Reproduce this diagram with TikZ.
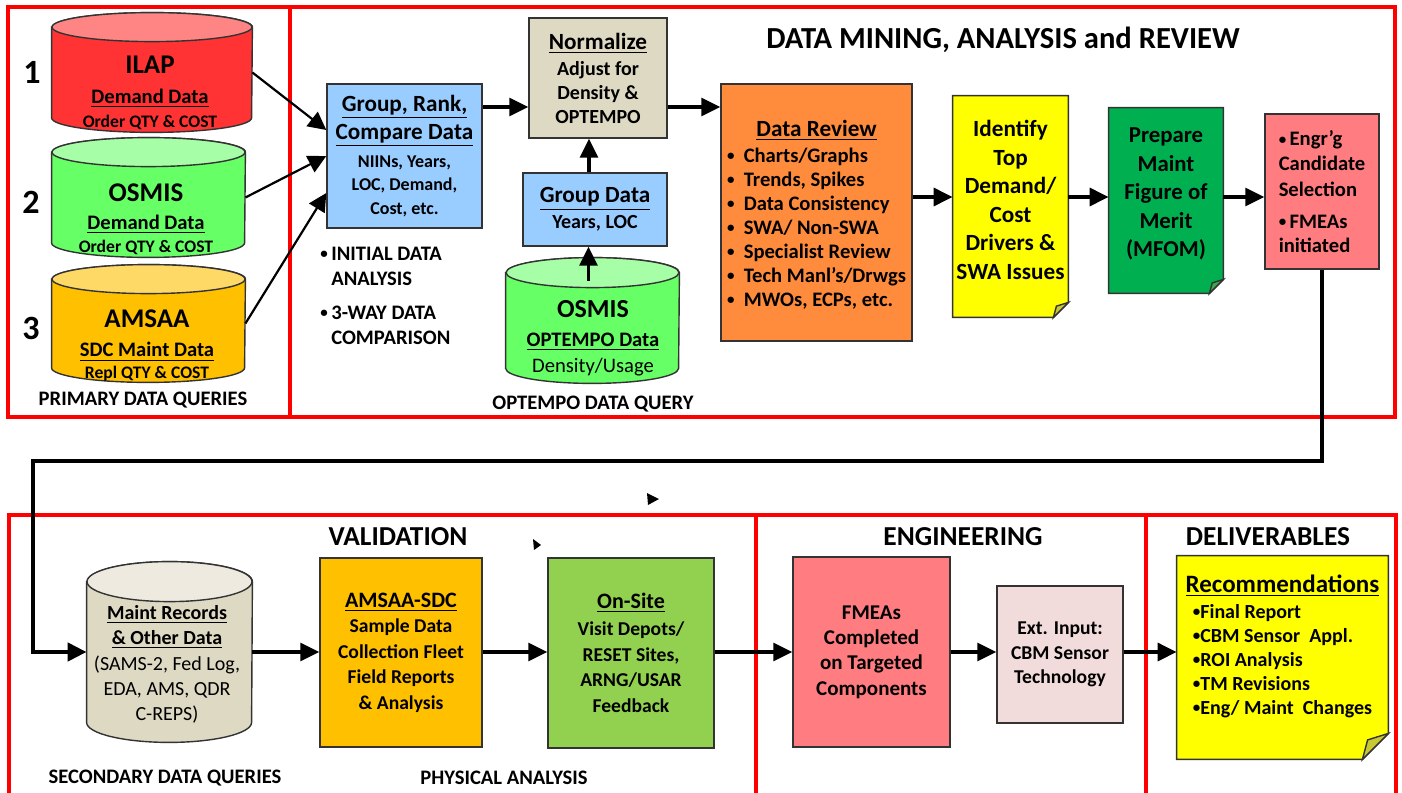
\documentclass[tikz,border=0pt]{standalone}
\usepackage{fontspec}
\setmainfont{Carlito}
\usetikzlibrary{shapes.geometric, arrows.meta, positioning, backgrounds}

\definecolor{ilapred}{HTML}{FF3333}
\definecolor{ilaptop}{HTML}{FF8585}
\definecolor{osmisgreen}{HTML}{66FF66}
\definecolor{osmistop}{HTML}{A6FFA6}
\definecolor{amsaagold}{HTML}{FFC000}
\definecolor{amsaatop}{HTML}{FFD966}
\definecolor{stepblue}{HTML}{99CCFF}
\definecolor{boxtan}{HTML}{DDD9C3}
\definecolor{tantop}{HTML}{EEEAE0}
\definecolor{revieworange}{HTML}{FF8C3C}
\definecolor{noteyellow}{HTML}{FFFF00}
\definecolor{foldyellow}{HTML}{C8C832}
\definecolor{mfomgreen}{HTML}{00B050}
\definecolor{foldgreen}{HTML}{3DA84A}
\definecolor{engrpink}{HTML}{FF7C80}
\definecolor{sitegreen}{HTML}{92D050}
\definecolor{extpink}{HTML}{F2DCDB}

\newcommand{\fsz}[2]{\fontsize{#1}{#2}\selectfont}
\newcommand{\bul}{\raisebox{0.9pt}{\fsz{7.5}{8}•}}
% note box with a folded corner, drawn behind its node
\newcommand{\dogear}[4]{%
  \begin{scope}[on background layer]
    \draw[edge, fill=#2] (#1.north west) -- (#1.north east) -- ([yshift=#4]#1.south east)
      -- ([xshift=-#4]#1.south east) -- (#1.south west) -- cycle;
    \draw[edge, fill=#3] ([yshift=#4]#1.south east) -- ([xshift=-#4]#1.south east)
      -- ([xshift=-0.8*#4, yshift=0.75*#4]#1.south east) -- cycle;
  \end{scope}}
% database drum behind its node: name, body, top, half width, top radius
\newcommand{\drum}[5]{%
  \begin{scope}[on background layer]
    \draw[edge, fill=#2] ([yshift=-#5]#1.north west) -- ([yshift=#5]#1.south west)
      arc[start angle=180, end angle=360, x radius=#4, y radius=#5]
      -- ([yshift=-#5]#1.north east)
      arc[start angle=0, end angle=180, x radius=#4, y radius=#5] -- cycle;
    \draw[edge, fill=#3] ([yshift=-#5]#1.north) ellipse[x radius=#4, y radius=#5];
  \end{scope}}

\tikzset{
  frame/.style={draw=red, line width=2pt},
  edge/.style={draw=black!80, line width=0.7pt},
  box/.style={edge, rectangle, align=center, inner sep=0pt, font=\bfseries\fsz{10}{12}},
  note/.style={rectangle, inner sep=0pt},
  db/.style={rectangle, inner sep=0pt},
  lbl/.style={align=center, inner sep=0pt, font=\bfseries\fsz{10.3}{12}},
  head/.style={font=\bfseries\fsz{13.7}{16}},
  num/.style={font=\bfseries\fsz{17}{20}},
  flow/.style={line width=1.6pt, -{Triangle[length=9.5pt,width=9pt]}},
  feed/.style={line width=1.1pt, -{Triangle[length=9pt,width=9pt]}},
  back/.style={line width=2.2pt, -{Triangle[length=9.5pt,width=9pt]}},
}

\begin{document}
\begin{tikzpicture}[x=0.5pt, y=-0.5pt]
\useasboundingbox (0,0) rectangle (1402,792);
\clip (0,0) rectangle (1402,792);

% frames
\draw[frame] (8,7) rectangle (290,417);
\draw[frame] (290,7) rectangle (1395,417);
\draw[frame] (9,515) rectangle (756,800);
\draw[frame] (756,515) rectangle (1146,800);
\draw[frame] (1146,515) rectangle (1396,800);

\coordinate (rowA) at (0,107);
\coordinate (rowB) at (0,197);
\coordinate (rowC) at (0,652);
\coordinate (turn) at (33,461);

% primary queries
\node[num] (one) at (32,72) {1};
\node[num] (two) at (31,202) {2};
\node[num] (three) at (31,328) {3};

\node[db, minimum width=100pt, minimum height=59.5pt] (ilap) at (152,72.5) {};
\drum{ilap}{ilapred}{ilaptop}{50pt}{7.25pt}
\node[lbl] (ilap-t) at (150,93) {{\fsz{13.5}{15}ILAP}\\[3pt]\underline{Demand Data}\\{\fsz{8.8}{10}Order QTY \& COST}};
\node[db, minimum width=96.5pt, minimum height=59.5pt] (osmis) at (148.5,197.5) {};
\drum{osmis}{osmisgreen}{osmistop}{48.25pt}{7.25pt}
\node[lbl] (osmis-t) at (146,219) {{\fsz{13.5}{15}OSMIS}\\[2pt]\underline{Demand Data}\\[-0.5pt]{\fsz{8.8}{10}Order QTY \& COST}};
\node[db, minimum width=96.5pt, minimum height=58.5pt] (amsaa) at (148.5,323.5) {};
\drum{amsaa}{amsaagold}{amsaatop}{48.25pt}{7.25pt}
\node[lbl] (amsaa-t) at (147,346) {{\fsz{13.5}{15}AMSAA}\\[2.5pt]\underline{SDC Maint Data}\\[-1pt]{\fsz{8.8}{10}Repl QTY \& COST}};
\node[lbl] (primary) at (143,400) {PRIMARY DATA QUERIES};

% data mining
\node[head, font=\bfseries\fsz{15.3}{18}] (mining) at (1003,40) {DATA MINING, ANALYSIS and REVIEW};

\node[box, fill=stepblue, minimum width=77.5pt, minimum height=72pt, font=\bfseries\fsz{9}{11.75}] (group) at (404.5,156)
  {{\fsz{11.6}{14}\underline{Group, Rank,}}\\[2.25pt]{\fsz{11.6}{14}\underline{Compare Data}}\\[2.25pt]NIINs, Years,\\ LOC, Demand,\\ Cost, etc.};
\node[lbl, align=left, anchor=west, font=\bfseries\fsz{10.3}{12.5}] (initial) at (320,296)
  {\bul\,INITIAL DATA\\ \hphantom{\bul\,}ANALYSIS\\[4.5pt] \bul\,3-WAY DATA\\ \hphantom{\bul\,}COMPARISON};

\node[box, fill=boxtan, minimum width=69pt, minimum height=60pt] (norm) at (598,78)
  {{\fsz{11.6}{14}\underline{Normalize}}\\[1pt]Adjust for\\ Density \&\\ OPTEMPO};
\node[box, fill=stepblue, minimum width=72pt, minimum height=36.5pt] (grpdata) at (595,209.5)
  {{\fsz{11.6}{14}\underline{Group Data}}\\[1pt]Years, LOC};
\node[db, minimum width=86.5pt, minimum height=62.5pt] (optdb) at (592.5,320.5) {};
\drum{optdb}{osmisgreen}{osmistop}{43.25pt}{7.5pt}
\node[lbl] (optdb-t) at (593,338) {{\fsz{13}{15}OSMIS}\\[2.5pt]\underline{OPTEMPO Data}\\[1pt]{\mdseries Density/Usage}};
\node[lbl] (optquery) at (593,404) {OPTEMPO DATA QUERY};

\node[box, fill=revieworange, minimum width=95.5pt, minimum height=128.5pt] (review) at (816.5,212.5) {};
\node[lbl] (review-t) at ([yshift=-2pt]review.center)
  {{\fsz{11.6}{14}\underline{Data Review}}\\[1pt]
   \begin{tabular}[t]{@{}l@{}}
   \bul\ \ Charts/Graphs\\ \bul\ \ Trends, Spikes\\ \bul\ \ Data Consistency\\ \bul\ \ SWA/ Non-SWA\\
   \bul\ \ Specialist Review\\ \bul\ \ Tech Manl’s/Drwgs\\ \bul\ \ MWOs, ECPs, etc.
   \end{tabular}};

\node[note, minimum width=57.5pt, minimum height=110.5pt] (ident) at (1010.5,206.5) {};
\dogear{ident}{noteyellow}{foldyellow}{7.5pt}
\node[lbl, font=\bfseries\fsz{11.6}{14.3}] (ident-t) at ([yshift=3.25pt]ident.center)
  {Identify\\ Top\\ Demand/\\ Cost\\ Drivers \&\\ SWA Issues};
\node[note, minimum width=57pt, minimum height=92.5pt] (mfom) at (1166,200.5) {};
\dogear{mfom}{mfomgreen}{foldgreen}{7pt}
\node[lbl, font=\bfseries\fsz{11.4}{14.25}] (mfom-t) at ([yshift=3.25pt]mfom.center)
  {Prepare\\ Maint\\ Figure of\\ Merit\\ (MFOM)};
\node[box, fill=engrpink, minimum width=57pt, minimum height=77.5pt] (engr) at (1322,191.5) {};
\node[lbl, font=\bfseries\fsz{10.3}{12.5}] (engr-t) at ([yshift=-1.5pt]engr.center)
  {\begin{tabular}[t]{@{}l@{}}\bul\,Engr’g\\ Candidate\\ Selection\\[3.5pt] \bul\,FMEAs\\ initiated\end{tabular}};

\draw[feed] (ilap.east) -- ([yshift=13pt]group.west);
\draw[feed] (osmis.east) -- (group.west);
\draw[feed] (amsaa.east) -- ([yshift=-18.5pt]group.west);
\draw[flow] (group.east |- rowA) -- (norm.west |- rowA);
\draw[flow] (norm.east |- rowA) -- (review.west |- rowA);
\draw[flow] ([xshift=-3pt]grpdata.north) -- ([xshift=-3pt]grpdata.north |- norm.south);
\draw[flow] ([xshift=-2pt, yshift=20pt]optdb.center) -- ([xshift=-2pt]optdb.center |- grpdata.south);
\draw[flow] (review.east |- rowB) -- (ident.west |- rowB);
\draw[flow] (ident.east |- rowB) -- (mfom.west |- rowB);
\draw[flow] (mfom.east |- rowB) -- (engr.west |- rowB);

% validation / engineering / deliverables
\node[head] (valid) at (398,537) {VALIDATION};
\node[head] (engtitle) at (963,537) {ENGINEERING};
\node[head] (delivtitle) at (1268,537) {DELIVERABLES};

\node[db, minimum width=82.5pt, minimum height=90pt] (maint) at (169.5,652) {};
\drum{maint}{boxtan}{tantop}{41.25pt}{10pt}
\node[lbl, font=\mdseries\fsz{10}{12.5}] (maint-t) at (167,664)
  {{\bfseries\underline{Maint Records}}\\ {\bfseries\underline{\& Other Data}}\\[0.5pt](SAMS-2, Fed Log,\\ EDA, AMS, QDR\\ C-REPS)};
\node[lbl] (secondary) at (165,778) {SECONDARY DATA QUERIES};

\node[box, fill=amsaagold, minimum width=81pt, minimum height=94.5pt, font=\bfseries\fsz{9.8}{12.75}] (sdc) at (401,652.5)
  {{\fsz{11}{13}\underline{AMSAA-SDC}}\\ Sample Data\\ Collection Fleet\\ Field Reports\\ \& Analysis};
\node[box, fill=sitegreen, minimum width=83pt, minimum height=95pt, font=\bfseries\fsz{9.8}{12.75}] (onsite) at (631,653)
  {{\fsz{11}{13}\underline{On-Site}}\\[0.75pt]Visit Depots/\\ RESET Sites,\\ ARNG/USAR\\ Feedback};
\node[lbl] (physical) at (504,778) {PHYSICAL ANALYSIS};

\node[box, fill=engrpink, minimum width=78.5pt, minimum height=95pt, font=\bfseries\fsz{10.5}{12.7}] (fmea) at (871.5,652)
  {FMEAs\\ Completed\\ on Targeted\\ Components};
\node[box, fill=extpink, minimum width=63pt, minimum height=68.5pt, font=\bfseries\fsz{9.8}{12.3}] (ext) at (1060,654.5)
  {Ext. Input:\\ CBM Sensor\\ Technology};
\node[note, minimum width=105.5pt, minimum height=101.5pt] (recs) at (1282.5,657.5) {};
\dogear{recs}{noteyellow}{foldyellow}{13pt}
\node[lbl, font=\bfseries\fsz{10}{12}] (recs-t) at ([yshift=4.5pt]recs.center)
  {{\fsz{12.5}{14}\underline{Recommendations}}\\[1pt]
   \begin{tabular}[t]{@{}l@{}}\bul Final Report\\ \bul CBM Sensor\ \ Appl.\\ \bul ROI Analysis\\ \bul TM Revisions\\ \bul Eng/ Maint\ \ Changes\end{tabular}};

\draw[back] (engr.south) |- (turn) |- (maint.west);
\draw[flow] (maint.east |- rowC) -- (sdc.west |- rowC);
\draw[flow] (sdc.east |- rowC) -- (onsite.west |- rowC);
\draw[flow] (onsite.east |- rowC) -- (fmea.west |- rowC);
\draw[flow] (fmea.east |- rowC) -- (ext.west |- rowC);
\draw[flow] (ext.east |- rowC) -- (recs.west |- rowC);

% stray arrow tips
\fill (647,493) -- (659,499) -- (648,505) -- cycle;
\fill (533,539) -- (541,545) -- (534,550) -- cycle;
\end{tikzpicture}
\end{document}
